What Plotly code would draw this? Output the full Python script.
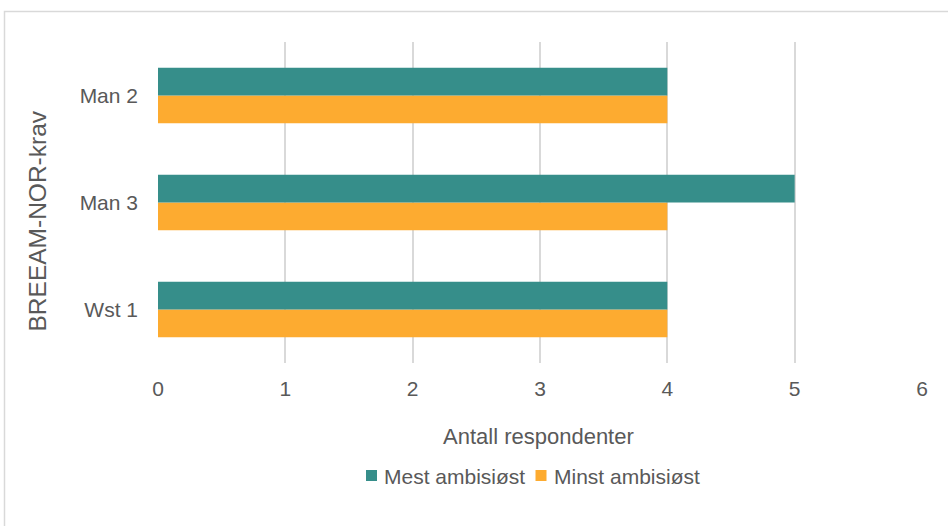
import plotly.graph_objects as go

# Requirements (bottom to top on the category axis)
krav = ["Wst 1", "Man 3", "Man 2"]
mest_ambisiost = [4, 5, 4]
minst_ambisiost = [4, 4, 4]
x_ticks = [0, 1, 2, 3, 4, 5, 6]

TEAL = "#368E8A"
ORANGE = "#FDAB30"
TEXT = "#595959"
GRID = "#D9D9D9"
FONT = "Liberation Sans, Arial, sans-serif"

W, H = 948, 526
ML, MR, MT, MB = 158, 26, 42, 163
PW, PH = W - ML - MR, H - MT - MB


def px_x(px):
    return (px - ML) / PW


def px_y(py):
    return (H - MB - py) / PH


fig = go.Figure()
fig.add_trace(go.Bar(
    y=krav, x=minst_ambisiost, name="Minst ambisiøst", orientation="h",
    marker=dict(color=ORANGE, line=dict(width=0)),
))
fig.add_trace(go.Bar(
    y=krav, x=mest_ambisiost, name="Mest ambisiøst", orientation="h",
    marker=dict(color=TEAL, line=dict(width=0)),
))

# Legend drawn as swatches + labels below the axis title
legend_items = [("Mest ambisiøst", TEAL, 366), ("Minst ambisiøst", ORANGE, 535.5)]
legend_shapes = []
legend_labels = []
for label, color, x0 in legend_items:
    legend_shapes.append(dict(
        type="rect", xref="paper", yref="paper",
        x0=px_x(x0), x1=px_x(x0 + 11), y0=px_y(481), y1=px_y(470),
        line=dict(width=0), fillcolor=color,
    ))
    legend_labels.append(dict(
        text=label, xref="paper", yref="paper",
        x=px_x(x0 + 16), y=px_y(476), xanchor="left", yanchor="middle",
        showarrow=False, font=dict(size=21, color=TEXT),
    ))

fig.update_layout(
    width=W, height=H,
    margin=dict(l=ML, r=MR, t=MT, b=MB),
    paper_bgcolor="white", plot_bgcolor="white",
    barmode="group", bargap=0.48, bargroupgap=0,
    font=dict(family=FONT, color=TEXT, size=21),
    showlegend=False,
    xaxis=dict(
        range=[0, 6], tickvals=x_ticks, showgrid=True, gridcolor=GRID,
        gridwidth=1.5, zeroline=False, showline=False, ticks="",
        tickfont=dict(size=21, color=TEXT), ticklabelstandoff=11,
    ),
    yaxis=dict(
        showgrid=False, zeroline=False, showline=False, ticks="",
        tickfont=dict(size=21, color=TEXT), ticklabelstandoff=19,
    ),
    shapes=[
        dict(type="rect", xref="paper", yref="paper",
             x0=px_x(4.5), x1=px_x(990), y0=px_y(560), y1=px_y(11.5),
             line=dict(color=GRID, width=1.5), fillcolor="rgba(0,0,0,0)",
             layer="below"),
    ] + legend_shapes,
    annotations=[
        dict(text="Antall respondenter", xref="paper", yref="paper",
             x=px_x(538), y=px_y(436), xanchor="center", yanchor="middle",
             showarrow=False, font=dict(size=22, color=TEXT)),
        dict(text="BREEAM-NOR-krav", xref="paper", yref="paper",
             x=px_x(37), y=px_y(221.5), xanchor="center", yanchor="middle",
             textangle=-90, showarrow=False, font=dict(size=24.5, color=TEXT)),
    ] + legend_labels,
)

fig.write_html("out.html")
